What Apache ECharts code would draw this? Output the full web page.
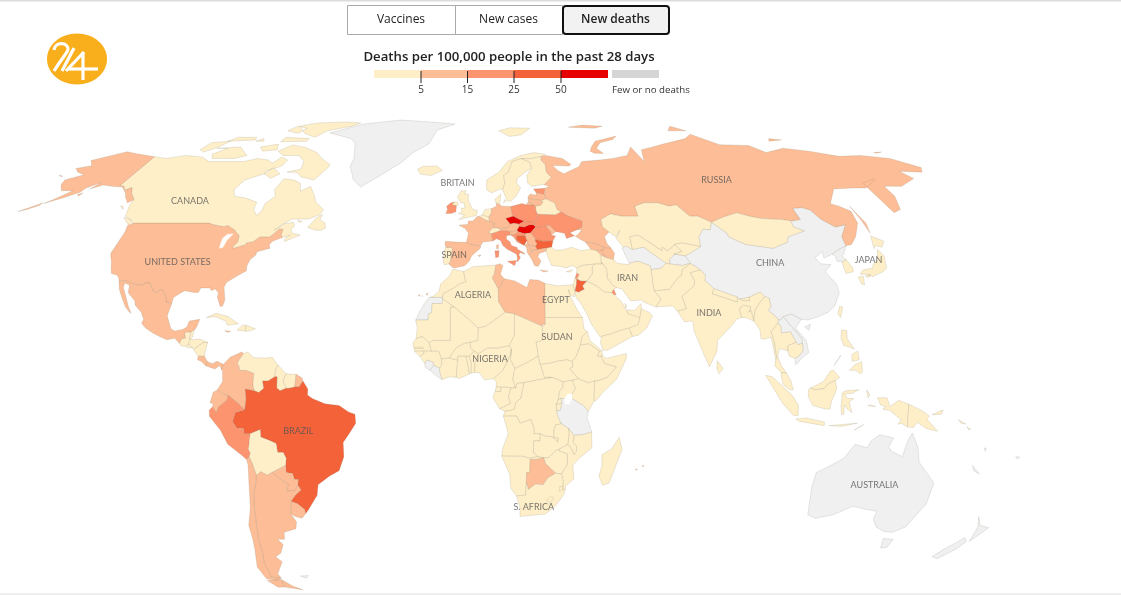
<!DOCTYPE html>
<html><head><meta charset="utf-8">
<script src="https://cdn.jsdelivr.net/npm/echarts@6/dist/echarts.min.js"></script>
<style>html,body{margin:0;padding:0;background:#fff}#c{width:1121px;height:595px}</style></head>
<body><div id="c"></div>
<script>
// Values: deaths per 100,000 in the past 28 days (estimated from the colour bin)
const countries = ['USA','Canada','Mexico','Guatemala','Belize','Honduras','El Salvador','Nicaragua','Costa Rica','Panama','Cuba','Haiti','Dominican Rep.','Jamaica','Iceland',
'Colombia','Venezuela','Guyana','Suriname','French Guiana','Brazil','Ecuador','Peru','Bolivia','Paraguay','Uruguay','Argentina','Chile',
'Morocco','Algeria','Tunisia','Libya','Egypt','Sudan','South Sudan','Chad','Niger','Mali','Mauritania','Senegal','Gambia','Guinea-Bissau','Guinea','Ivory Coast','Burkina Faso','Ghana','Togo','Benin','Nigeria','Cameroon','CAR','Eq. Guinea','Gabon','Congo','DR Congo','Uganda','Kenya','Rwanda','Burundi','Ethiopia','Eritrea','Djibouti','Somalia','Angola','Zambia','Malawi','Mozambique','Zimbabwe','Namibia','Botswana','South Africa','Lesotho','Eswatini','Madagascar','Mauritius',
'Portugal','Spain','France','Belgium','Netherlands','Germany','Denmark','Switzerland','Austria','Italy','Britain','Ireland','Norway','Sweden','Finland','Estonia','Latvia','Lithuania','Belarus','Poland','Czech Rep.','Slovakia','Hungary','Slovenia','Croatia','Bosnia','Serbia','Montenegro','Albania','N. Macedonia','Romania','Bulgaria','Moldova','Ukraine','Greece','Turkey','Cyprus','Georgia','Armenia','Azerbaijan','Russia',
'Kazakhstan','Uzbekistan','Kyrgyzstan','Afghanistan','Pakistan','Iran','Iraq','Syria','Lebanon','Israel','Jordan','Saudi Arabia','Kuwait','Qatar','UAE','Oman','Yemen','India','Nepal','Bangladesh','Bhutan','Sri Lanka','Myanmar','Thailand','Cambodia','Malaysia','Indonesia','PNG','Philippines','Taiwan','Mongolia','South Korea','Japan','Solomon Is.'];
const deaths = [9,3,8,3,3,4,2,1,8,7,2,1,2,7,1,
13,2,3,4,8,35,6,22,4,14,14,14,13,
1,1,8,7,2,1,1,1,1,1,1,1,1,1,1,1,1,1,1,1,1,1,1,1,1,1,1,1,1,1,1,1,1,1,1,1,2,1,1,3,4,8,4,3,3,1,7,
3,7,9,4,4,10,1,3,8,16,3,18,1,3,1,18,8,8,3,20,60,22,65,12,18,30,10,12,12,12,20,35,12,20,9,3,3,8,8,6,9,
1,1,1,1,1,4,3,2,18,3,28,2,18,2,2,2,1,2,1,1,1,1,1,2,1,2,2,1,2,1,2,2,3,1];
const binEdges = [5,15,25,50];
const binColors = ['#feefc9','#fdbd96','#fc9470','#f4623a','#e60000'];
const noDataColor = '#f0f0f0';
const legendLabels = ['5','15','25','50'];
const legendTitle = 'Deaths per 100,000 people in the past 28 days';
const legendNoData = 'Few or no deaths';
const tabs = ['Vaccines','New cases','New deaths'];
const labelNames = ['CANADA','UNITED STATES','RUSSIA','BRITAIN','SPAIN','ALGERIA','EGYPT','SUDAN','NIGERIA','IRAN','INDIA','CHINA','JAPAN','BRAZIL','S. AFRICA','AUSTRALIA'];
const labelLons = [-108.2,-99.9,98.2,-6.7,-5.8,1.2,28.5,28.8,7.5,52.7,78.2,102,136,-53.2,22.9,133.8];
const labelLats = [55.5,37.7,62,61,39.8,28.4,27,16.5,10.2,33.2,23.3,37.5,38.3,-10.2,-31.8,-25.6];
const lakes = ['Lake Victoria','Lake Michigan'];

// Simplified country outlines in lon,lat
const outlines = {
'USA':['-124.7,48.4 -123,49 -95.2,49 -94.6,48.7 -92,48.3 -89.6,48 -88.4,48.3 -84.9,46.9 -84.5,46.5 -83.6,46 -82.5,45.3 -82.1,43.6 -82.4,43 -83.1,42.2 -82.7,41.7 -79,42.8 -79,43.3 -76.8,43.6 -76.2,44.1 -75,45 -71.5,45 -70.3,46.2 -69.2,47.4 -67.8,47.1 -67.8,45.7 -67,44.8 -70,43.7 -70.7,42.7 -70,41.7 -74,40.7 -74.1,39.7 -75.5,38.5 -75.9,36.6 -75.5,35.3 -77.9,33.9 -81,32 -81.4,30.7 -80.1,26.9 -80.4,25.2 -81.2,25.2 -81.8,26.2 -82.8,27.8 -82.7,28.9 -84,30.1 -85.3,29.7 -86,30.4 -89,30.4 -89.4,29.1 -90.8,29.1 -94,29.6 -95.1,29 -97.2,27.7 -97.2,25.9 -99.2,26.4 -99.5,27.5 -101.4,29.8 -102.7,29.7 -103.2,29 -104.5,29.6 -106.5,31.8 -108.2,31.8 -108.2,31.3 -111,31.3 -114.8,32.5 -117.1,32.5 -117.3,33 -118.4,34 -120.6,34.5 -121.9,36.6 -122.5,37.8 -123.8,39.5 -124.3,40.4 -124.1,43 -124,46.3',
'-141,69.6 -141,60.3 -139,60 -137.5,58.9 -135.5,59.7 -133.5,58 -130,55.9 -131.5,55 -134,56.5 -136,58 -139.5,59.8 -144,60 -148,60.4 -151.5,59.2 -150,61.2 -153.5,59.5 -154,58.2 -158,56.5 -163,54.8 -161,56 -157.5,58.7 -162,58.7 -165,60.5 -166,62 -161,63.7 -165,64.5 -168,65.7 -163,66.6 -166.5,68.3 -156.5,71.3 -150,70.5',
'-163.5,55 -166,53.9 -169.5,52.4 -167,53 -164,54.2','-154,57.5 -152.5,58 -153,57','-171,63.5 -168.8,63.2 -170,63.2'],
'Canada':['-141,69.6 -135,69 -128,70 -120,69.5 -115,68 -108,68 -100,68 -95,69 -90,68.5 -87,67.5 -85,69.5 -81.5,68.5 -82,66.5 -87,65 -87,64 -93,62 -94.5,59 -92.5,57 -88,56.5 -82.5,55.2 -82,53 -80,51.3 -78.8,52.5 -79,54.8 -76.7,57 -78.5,59 -77.5,62.4 -73,62 -69.8,61 -68,58.5 -65,60 -62,57.5 -60,55.2 -56,53 -56.5,51.5 -60,50.2 -66,50.2 -69,48.5 -71,46.9 -68,48.8 -65,49.2 -64.3,48.2 -65,47 -64,46 -61,45.5 -63.5,44.5 -65.8,43.6 -66,44.5 -64.5,45.5 -67,44.8 -67.8,45.7 -67.8,47.1 -69.2,47.4 -70.3,46.2 -71.5,45 -75,45 -76.2,44.1 -76.8,43.6 -79,43.3 -79,42.8 -82.7,41.7 -83.1,42.2 -82.4,43 -82.1,43.6 -82.5,45.3 -83.6,46 -84.5,46.5 -84.9,46.9 -88.4,48.3 -89.6,48 -92,48.3 -94.6,48.7 -95.2,49 -123,49 -125,50 -128,51 -130,54.5 -130,55.9 -133.5,58 -135.5,59.7 -137.5,58.9 -139,60 -141,60.3',
'-123.5,48.4 -125.5,49 -128.3,50.7 -125,50 -123.5,48.9','-59.3,47.7 -57.4,50.5 -55.6,51.5 -55.8,50 -53.5,49 -52.8,47.5 -54.2,46.9 -56,46.9',
'-62,66 -65,62 -71,63 -74,64.5 -78,64.5 -73,65.5 -74,68 -78,70 -85,70 -89,71.5 -85,73.7 -78,72.8 -71,71 -67,69 -62,67',
'-105,69 -115,69 -117,70.5 -113,72.5 -118,72.5 -108,73 -101,70','-125,72 -122,71.2 -118,73 -116,75 -124,74.5','-87,64 -83,62.5 -80.5,64 -85,66',
'-62,82.5 -70,83 -85,82.5 -92,81 -85,78 -78,76.5 -75,79 -65,81','-80,75 -92,74.8 -92,76.5 -80,76','-105,75.5 -117,75 -115,76.5 -106,76.5','-88,78 -95,79 -93,81 -87,80','-90,72 -96,71.5 -99,73 -92,74','-132,54 -131,53 -133,54','-64,49.9 -62,49.5 -63,49.2','-100,75 -104,75 -102,76'],
'Mexico':['-117.1,32.5 -114.8,32.5 -111,31.3 -108.2,31.3 -108.2,31.8 -106.5,31.8 -104.5,29.6 -103.2,29 -102.7,29.7 -101.4,29.8 -99.5,27.5 -99.2,26.4 -97.2,25.9 -97.8,22.5 -95.8,18.8 -94.5,18.2 -92,18.6 -90.7,19.3 -90.3,21 -87,21.5 -87.5,19.5 -88,18.5 -88.9,17.9 -89.1,17.8 -91,17.8 -91,17.2 -90.5,16.1 -91.7,16 -92.2,14.6 -94,16.1 -96.5,15.7 -99,16.6 -101.5,17.7 -104,19 -105.6,20.4 -105.2,21.5 -106.5,23.5 -109,25.5 -109.5,26.7 -112.5,29 -113,31.2 -114.8,31.8 -114.7,30.5 -112.8,27.8 -111,25 -109.7,23.2 -110.3,23.5 -112,25 -114,27.5 -115.8,30'],
'Guatemala':['-92.2,14.6 -91.7,16 -90.5,16.1 -91,17.2 -91,17.8 -89.1,17.8 -89.2,15.9 -88.2,15.7 -89.2,14.6 -90,13.8 -91.5,13.9'],
'Belize':['-89.1,17.9 -88.3,18.5 -88.3,16.5 -89.2,15.9'],
'Honduras':['-89.2,15.9 -88.2,15.7 -86,15.9 -83.2,15 -83.5,14.8 -84.8,14.8 -87.4,13 -87.8,13.4 -89.2,14.4'],
'El Salvador':['-90,13.8 -89.2,14.4 -87.8,13.4 -88,13.2 -89.5,13.4'],
'Nicaragua':['-87.4,13 -84.8,14.8 -83.2,15 -83.7,12 -83.7,11 -85.7,11 -87.5,12.9'],
'Costa Rica':['-85.7,11 -83.7,11 -82.6,9.5 -83,8.3 -84.5,9.5 -85.8,10'],
'Panama':['-83,8.3 -82.6,9.5 -81,8.9 -79.5,9.6 -77.4,8.7 -77.9,7.2 -78.5,8.4 -80,7.4 -81,7.7 -82.8,8.2'],
'Cuba':['-85,22 -82,23.2 -78,22.3 -74.2,20.2 -77.7,19.8 -78.5,21 -82,22.2'],
'Haiti':['-74.4,18.4 -72.8,19.9 -71.7,19.8 -71.7,18.2'],
'Dominican Rep.':['-71.7,19.8 -68.5,18.8 -70,18.3 -71.7,18'],
'Jamaica':['-78.3,18.3 -76.3,18 -77.5,17.8'],
'Iceland':['-24,65.5 -22,66.4 -16,66.5 -13.5,65 -18,63.4 -22.5,63.9'],
'Greenland':['-11.8,82 -25,83 -42,83.9 -60,82 -72.8,78.2 -60,76 -56.5,74.3 -53,69 -53,66.5 -49,62 -45,59.8 -39.8,62.8 -32,67.5 -28,71 -22,74 -20,79.3'],
'Colombia':['-77.4,8.7 -75.5,10.7 -72,12.2 -71.3,11.8 -72.5,10 -73,9 -72.3,8 -72,7 -70,7 -67.5,6.2 -67.5,2.8 -67,1.2 -69.9,1.7 -69.5,-1 -70,-4.2 -70.7,-3.7 -72,-2.4 -75.2,-0.1 -77,0.4 -78.8,1.4 -77.2,3.8 -77.5,6.9 -77.9,7.2'],
'Venezuela':['-71.3,11.8 -70,12.2 -68,10.6 -64,10.5 -62,10.7 -60,8.5 -60.7,7 -60.7,5.2 -62.8,4 -64.5,4 -64,1.9 -65.5,0.7 -67,1.2 -67.5,2.8 -67.5,6.2 -70,7 -72,7 -72.3,8 -73,9 -72.5,10'],
'Guyana':['-60,8.5 -57.2,6 -58,4 -56.9,1.9 -58.8,1.2 -59.9,2 -60,5.2 -60.7,5.2 -60.7,7'],
'Suriname':['-57.2,6 -54,5.9 -54.2,2.3 -56,1.9 -56.9,1.9 -58,4'],
'French Guiana':['-54,5.9 -52,4.8 -51.7,4 -52.8,2.3 -54.2,2.3'],
'Brazil':['-51.7,4 -50,1.7 -50,0 -48.5,-1 -44.5,-2.5 -40,-3 -37,-4.8 -35,-5.5 -34.8,-8 -37,-11 -39,-13.5 -39,-17.5 -40.8,-21.5 -44,-23 -48,-25.5 -48.7,-28.5 -52,-32.3 -53.4,-33.7 -53.5,-32.5 -55.6,-30.9 -57.6,-30.2 -55.8,-28.4 -53.8,-27 -54.6,-25.6 -54.3,-24 -55.5,-24 -56,-22.3 -58,-22 -58,-20 -57.6,-18 -58.4,-16.3 -60.2,-16.3 -60.5,-13.8 -62,-13.1 -65.3,-11.9 -65.3,-9.8 -68.6,-11 -70.6,-11 -70.6,-9.5 -72.8,-9.4 -74,-7.5 -73,-5 -70,-4.2 -69.5,-1 -69.9,1.7 -67,1.2 -65.5,0.7 -64,1.9 -64.5,4 -62.8,4 -60.7,5.2 -60,5.2 -59.9,2 -58.8,1.2 -56.9,1.9 -56,1.9 -54.2,2.3 -52.8,2.3'],
'Ecuador':['-78.8,1.4 -77,0.4 -75.2,-0.1 -75.6,-1.5 -78.3,-3.4 -79,-5 -80.3,-3.4 -80,-2.5 -81,-2.2 -80,0.8'],
'Peru':['-75.2,-0.1 -72,-2.4 -70.7,-3.7 -70,-4.2 -73,-5 -74,-7.5 -72.8,-9.4 -70.6,-9.5 -70.6,-11 -68.6,-11 -69.5,-15.5 -69,-16.5 -69.5,-17.5 -70.4,-18.3 -72,-17 -76,-14 -78,-10 -81.3,-6 -81.3,-4.3 -80.3,-3.4 -79,-5 -78.3,-3.4 -75.6,-1.5'],
'Bolivia':['-68.6,-11 -65.3,-9.8 -65.3,-11.9 -62,-13.1 -60.5,-13.8 -60.2,-16.3 -58.4,-16.3 -57.6,-18 -58,-20 -62.6,-22 -64.3,-22.8 -66.2,-21.8 -67.8,-22.8 -68.7,-19.5 -69.5,-17.5 -69,-16.5 -69.5,-15.5'],
'Paraguay':['-58,-20 -58,-22 -56,-22.3 -55.5,-24 -54.3,-24 -54.6,-25.6 -56,-27.3 -58.6,-27.2 -57.7,-25.3 -60,-24 -62.6,-22'],
'Uruguay':['-53.4,-33.7 -53.5,-32.5 -55.6,-30.9 -57.6,-30.2 -58.4,-33.8 -57,-34.5 -54.9,-35'],
'Argentina':['-66.2,-21.8 -64.3,-22.8 -62.6,-22 -60,-24 -57.7,-25.3 -58.6,-27.2 -56,-27.3 -54.6,-25.6 -53.8,-27 -55.8,-28.4 -57.6,-30.2 -58.4,-33.8 -57,-36 -57.7,-38 -62,-39 -62.5,-41 -65,-41 -63.5,-42.5 -65.3,-45 -67.5,-46 -65.8,-47.5 -69,-51 -68.4,-52.3 -72,-52 -71.9,-50 -72.5,-48 -71.7,-45 -71.5,-41 -71,-38 -70.5,-35 -70,-31 -69.5,-28 -68.3,-25 -67.8,-22.8','-68.6,-52.7 -68.6,-54.9 -62,-55.8 -65.2,-54.7'],
'Chile':['-69.5,-17.5 -68.7,-19.5 -67.8,-22.8 -68.3,-25 -69.5,-28 -70,-31 -70.5,-35 -71,-38 -71.5,-41 -71.7,-45 -72.5,-48 -71.9,-50 -72,-52 -68.4,-52.3 -70.5,-53 -74,-52.5 -75.5,-49 -74,-44 -73.5,-41 -73.5,-37 -71.5,-32 -70.5,-25 -70.1,-20 -70.4,-18.3','-68.6,-52.7 -68.6,-54.9 -71,-55 -74,-53'],
'Falkland Is.':['-61,-51.7 -58,-51.5 -59,-52.3'],
'Morocco':['-5.9,35.8 -2.2,35.1 -1.7,33 -1.2,32.2 -3.5,31.5 -5,30.5 -8.7,28.7 -8.7,27.7 -13,27.7 -11.5,28.2 -10,29.5 -9.7,31.5 -7,33.7'],
'W. Sahara':['-13.2,27.7 -8.7,27.7 -8.7,26 -12,26 -12,23.4 -13,23 -13,21.3 -17,21.3 -16,23.5 -14.5,26'],
'Algeria':['-2.2,35.1 1,36.5 8.6,36.9 8.2,34.6 7.5,33.2 9.5,30.2 9.7,26.5 11.9,23.5 5.8,19.5 3.3,19 1.2,20.7 -4.8,25 -8.7,27.3 -8.7,28.7 -5,30.5 -3.5,31.5 -1.2,32.2 -1.7,33'],
'Tunisia':['8.6,36.9 10,37.3 11,36.8 10.2,34.3 11.5,33 10.2,31 9.5,30.2 7.5,33.2 8.2,34.6'],
'Libya':['11.5,33 15,32.4 19,30.5 20,32.8 23,32.6 25,31.7 25,20 24,20 24,19.5 15,23 11.9,23.5 9.7,26.5 9.5,30.2 10.2,31'],
'Egypt':['25,31.7 29,31 32,31.2 34.3,31.3 34.9,29.5 34.3,27.8 33.2,28.5 32.6,30 33.5,27.5 35.5,24 37,22 25,22'],
'Sudan':['25,22 37,22 37.5,18.7 38.6,18 36.8,16.5 36.4,14.3 35,11 33.8,9.5 32,10 29,9.6 26.5,9 24,8.7 23.5,8.8 22.8,11 22.5,13 22,15 24,15.5 24,19.5 25,20'],
'South Sudan':['33.8,9.5 34,8 33,7.5 35.9,4.6 33.9,4.2 31,3.7 29,4.5 27.4,5 25,5 23.5,8.8 24,8.7 26.5,9 29,9.6 32,10'],
'Chad':['24,19.5 24,15.5 22,15 22.5,13 22.8,11 19,9 15.5,7.5 14,10 14.2,13 13.5,14 15,17 15,23'],
'Niger':['11.9,23.5 15,23 15,17 13.5,14 10,13.3 6.5,13.3 3.8,11.7 2.3,12.4 1,13.5 1,15 3.3,15.5 3.3,19 5.8,19.5'],
'Mali':['1.2,20.7 3.3,19 3.3,15.5 1,15 -1,14.6 -3.5,13.4 -5.5,10.5 -8,10.2 -9,12.4 -11.4,12.4 -12.2,14.8 -11,15.5 -5.5,15.5 -6,25 -4.8,25'],
'Mauritania':['-17,21.3 -13,21.3 -13,23 -12,23.4 -12,26 -8.7,26 -8.7,27.3 -4.8,25 -6,25 -5.5,15.5 -11,15.5 -12.2,14.8 -14.5,16.6 -16.5,16 -16.3,19'],
'Senegal':['-16.5,16 -14.5,16.6 -12.2,14.8 -11.4,12.4 -13.7,12.5 -16.7,12.4 -17.5,14.7'],
'Gambia':['-16.8,13.5 -14,13.6 -14,13.2 -16.8,13.2'],
'Guinea-Bissau':['-16.7,12.4 -13.7,12.5 -13.7,11.7 -15,11'],
'Guinea':['-13.7,12.5 -11.4,12.4 -9,12.4 -8,10.2 -7.8,8.6 -8.5,7.6 -10.3,8.4 -10.7,9.3 -12.5,9.9 -13.3,9 -15,11 -13.7,11.7'],
'Sierra Leone':['-13.3,9 -12.5,9.9 -10.7,9.3 -10.3,8.4 -11.5,7 -13,7.8'],
'Liberia':['-11.5,7 -10.3,8.4 -8.5,7.6 -8.3,6.5 -7.5,4.4 -9,5.2'],
'Ivory Coast':['-7.5,4.4 -8.3,6.5 -8.5,7.6 -7.8,8.6 -8,10.2 -5.5,10.5 -2.8,9.9 -3,5 -5,5.2'],
'Burkina Faso':['-5.5,10.5 -3.5,13.4 -1,14.6 1,15 1,13.5 2.3,12.4 0.9,11 -0.2,11 -2.8,11 -2.8,9.9'],
'Ghana':['-3,5 -2.8,9.9 -2.8,11 -0.2,11 0.5,8.5 1.2,6 -2,4.7'],
'Togo':['1.2,6 0.5,8.5 -0.2,11 0.9,11 1.6,9 1.7,6.2'],
'Benin':['1.7,6.2 1.6,9 0.9,11 2.3,12.4 3.8,11.7 2.8,9 2.7,6.4'],
'Nigeria':['2.7,6.4 2.8,9 3.8,11.7 6.5,13.3 10,13.3 13.5,14 14.2,13 14,11.5 11.8,7 8.8,4.6 6,4.3 4.3,6.3'],
'Cameroon':['8.8,4.6 11.8,7 14,11.5 14.2,13 14,10 15.5,7.5 15,4.5 16,2 14.5,2 13.2,2.2 11.3,2.2 9.8,2.3 9.7,3.8'],
'CAR':['15.5,7.5 19,9 22.8,11 23.5,8.8 25,5 27.4,5 22.5,4.2 18.6,3.5 16.5,3.3 16,2 15,4.5'],
'Eq. Guinea':['9.8,2.3 11.3,2.2 11.3,1 9.5,1'],
'Gabon':['9.5,1 11.3,1 11.3,2.2 13.2,2.2 14.5,2 13.8,-0.5 14.5,-2.4 12,-3.5 11,-3.9 8.8,-0.7'],
'Congo':['11,-3.9 12,-3.5 14.5,-2.4 13.8,-0.5 14.5,2 16,2 16.5,3.3 18.6,3.5 17.7,-1 16.2,-2 15.7,-4 14,-4.5 12.7,-4.6'],
'DR Congo':['12.2,-6 12.7,-4.6 14,-4.5 15.7,-4 16.2,-2 17.7,-1 18.6,3.5 22.5,4.2 27.4,5 29,4.5 31,3.7 31,2.2 30,1 29.6,-1.4 29,-2.7 29.2,-4.5 29.5,-6 30.7,-8.2 28.9,-8.5 28.4,-10 28.4,-12 29.8,-12.2 29.8,-13.4 28,-12 27.5,-11.8 25.5,-11.7 24,-11 22,-11 22,-9.5 21,-7 17.5,-8 16.5,-6 13,-6'],
'Uganda':['31,3.7 33.9,4.2 35,1.9 33.9,0.1 33.9,-1 30.5,-1 29.6,-1.4 30,1 31,2.2'],
'Kenya':['33.9,4.2 35.9,4.6 39,3.5 41,4 41,-1.7 39.2,-4.7 37.6,-3 33.9,-1 33.9,0.1 35,1.9'],
'Rwanda':['29,-2.7 29.6,-1.4 30.5,-1 30.8,-2.3'],
'Burundi':['29,-2.7 30.8,-2.3 30.3,-4.4 29.2,-4.5'],
'Tanzania':['33.9,-1 37.6,-3 39.2,-4.7 38.8,-6.5 39.5,-8 40.4,-10.5 38,-11.2 34.9,-11.5 33,-9.5 30.7,-8.2 29.5,-6 29.2,-4.5 30.3,-4.4 30.8,-2.3 30.5,-1'],
'Lake Victoria':['31.7,-1 32.5,0.2 33.9,0.3 34,-1 33,-2.6 31.8,-2.5'],
'Ethiopia':['36.4,14.3 37,14.3 39,14.6 42.4,12.5 41.8,11 43,11 44,9 47.9,8 45,5 42,4 41,4 39,3.5 35.9,4.6 33,7.5 34,8 33.8,9.5 35,11'],
'Eritrea':['38.6,18 39.3,15.5 43,12.7 42.4,12.5 39,14.6 37,14.3 36.4,14.3 36.8,16.5'],
'Djibouti':['42.4,12.5 43.3,12.4 43.2,11.5 43,11 41.8,11'],
'Somalia':['43.2,11.5 44.5,10.4 51,11.8 51,10.4 48,4.5 44,1 41.5,-1.7 41,-1.7 41,4 42,4 45,5 47.9,8 44,9 43,11'],
'Angola':['12.2,-6 13,-6 16.5,-6 17.5,-8 21,-7 22,-9.5 22,-11 24,-11 24,-13 22,-13 22,-16.2 23.3,-17.5 21,-18 18.5,-17.4 14,-17.4 11.8,-17.3 12,-15.5 13.8,-11 13.2,-9'],
'Zambia':['22,-13 24,-13 24,-11 25.5,-11.7 27.5,-11.8 28,-12 29.8,-13.4 29.8,-12.2 28.4,-12 28.4,-10 28.9,-8.5 30.7,-8.2 33,-9.5 33.3,-10.8 33,-14 30.2,-15.4 28.8,-16 27,-17.8 25.3,-17.8 23.3,-17.5 22,-16.2'],
'Malawi':['33,-9.5 34.9,-11.5 34.6,-13.5 35.8,-14.5 35.8,-16 35,-17 34.3,-15.5 33,-14 33.3,-10.8'],
'Mozambique':['34.9,-11.5 38,-11.2 40.4,-10.5 40.7,-15 37,-17.8 34.8,-20 35.5,-23.8 32.9,-25.9 32.9,-26.8 32,-26.8 32,-24.5 31.3,-22.4 33,-19.8 32.9,-16.7 30.4,-16 30.2,-15.4 33,-14 34.3,-15.5 35,-17 35.8,-16 35.8,-14.5 34.6,-13.5'],
'Zimbabwe':['25.3,-17.8 27,-17.8 28.8,-16 30.2,-15.4 30.4,-16 32.9,-16.7 33,-19.8 31.3,-22.4 29.4,-22.2 26,-19.5'],
'Namibia':['11.8,-17.3 14,-17.4 18.5,-17.4 21,-18 23.3,-17.5 25.3,-17.8 23,-18.3 21,-18.3 21,-22 20,-22 20,-28.4 17,-28.7 15,-26.5 14.5,-22.5'],
'Botswana':['21,-18.3 23,-18.3 25.3,-17.8 26,-19.5 29.4,-22.2 27,-23.5 25.5,-25.5 23,-25.3 20.8,-26.8 20,-24.8 20,-22 21,-22'],
'South Africa':['17,-28.7 20,-28.4 20,-24.8 20.8,-26.8 23,-25.3 25.5,-25.5 27,-23.5 29.4,-22.2 31.3,-22.4 32,-24.5 32,-26.8 32.9,-26.8 32.4,-28.5 30,-31.5 27,-33.8 22,-34.2 18.5,-34.5 18.3,-32'],
'Lesotho':['27,-30 28.5,-28.6 29.4,-29.5 28,-30.6'],
'Eswatini':['31,-26 32,-26 32,-27 31,-27.3'],
'Madagascar':['49.3,-12 50.4,-15.5 47,-25 45,-25.6 43.5,-23 44.3,-20 44,-17 47,-15.3'],
'Mauritius':['57.3,-20 57.8,-20 57.5,-20.5','55.2,-21 55.8,-21 55.5,-21.4'],
'Portugal':['-9,41.9 -6.5,41.9 -6.9,38 -7.4,37.2 -9,37 -9.5,38.7'],
'Spain':['-9.2,43.7 -9.3,43 -8.8,41.9 -6.5,41.9 -6.9,38 -7.4,37.2 -6,36.2 -5.3,36.1 -2,36.7 -0.5,38 0.2,39.5 3.2,41.8 3.2,42.4 0,42.8 -1.8,43.4 -4,43.4','-16.8,28.3 -16.2,28.5 -16.5,28','-15.8,28.2 -15.3,28 -15.6,27.8','-14.3,28.6 -13.6,29 -13.9,28.3','2.4,39.6 3.4,39.8 3.1,39.3'],
'France':['-1.8,43.4 0,42.8 3.2,42.4 4,43.5 7.5,43.8 7,45.5 7,45.9 6,46.3 7.5,47.6 8.2,49 6.2,49.5 4.5,50 2.5,51 1.6,50.9 0.2,49.6 -1.5,49.6 -1.6,48.6 -4.8,48.4 -2.5,47.4 -1.2,46','8.7,42.6 9.5,42.8 9.4,41.5 8.8,41.6'],
'Belgium':['2.5,51 3.5,51.4 6,50.8 6.2,49.5 4.5,50'],
'Netherlands':['3.5,51.4 4.5,53 7,53.3 6.9,52 6,50.8'],
'Germany':['6,50.8 6.9,52 7,53.3 8.8,54 8.7,54.9 10,54.5 11,54 14.2,53.9 14.6,51.7 15,51 12.2,50.3 13.8,48.7 13,47.6 10,47.4 9.6,47.5 7.5,47.6 8.2,49 6.2,49.5'],
'Denmark':['8.7,54.9 8.2,56 10.6,57.7 10.3,56 10,54.5','11.5,55 12.5,55.5 12,56'],
'Switzerland':['6,46.3 7,45.9 10.4,46.8 9.6,47.5 7.5,47.6'],
'Austria':['9.6,47.5 10.4,46.8 12.4,46.7 14.5,46.4 16.1,46.9 17,48 16.9,48.6 15,49 13.8,48.7 13,47.6 10,47.4'],
'Italy':['7.5,43.8 8.8,44.4 10.2,43.9 11,42.5 12.5,41.4 14,40.8 15.7,40 16,38.8 15.7,38 16.1,37.9 17,39 16.5,39.8 16.9,40.5 18.5,40 18.4,40.3 16,41.5 16,41.9 14,42.5 13.5,43.6 12.3,44.3 12.3,45.3 13.7,45.5 13.7,46.5 12.4,46.7 10.4,46.8 7,45.9 7,45.5','12.5,38 15.6,38.2 15,36.7','8.2,41 9.7,41 9.5,39.2 8.5,39'],
'Britain':['-5,50 1.3,51.2 1.7,52.7 0,53 -1.5,55 -2,56 -2,57.6 -3.5,57.7 -3,58.7 -5,58.6 -6.2,56.7 -4.8,55 -3.5,54.9 -3,53.5 -4.5,53.3 -4,52.3 -5.2,51.8 -3,51.3','-5.5,54.5 -6,55.2 -7.3,55.2 -8,54.4 -6.3,54.1'],
'Ireland':['-6.3,54.1 -8,54.4 -7.3,55.2 -8.5,55 -10,54 -9.5,53 -10,51.8 -8,51.8 -6.3,52.3'],
'Norway':['5,59 7,58 10.5,59.2 11.3,59 12.3,61 12,63.5 14,64.5 16,68 20,69 24,68.9 29,69.7 31,70.4 26,71 20,70 14,68 10,64.5 5,62','11,79 17,80.2 27,80 22,77.5 16,76.8'],
'Sweden':['11.3,59 13,55.5 14.3,55.5 16.5,57 18.5,59.5 17,61 17.5,62.5 21,64.5 24,65.8 23.5,67.8 20,69 16,68 14,64.5 12,63.5 12.3,61'],
'Finland':['24,65.8 21.5,63.5 21.5,61 23,60 27,60.5 28,60.5 31.5,62.9 29.8,64.5 30,67 28.5,68.5 29,69.7 24,68.9 20,69 23.5,67.8'],
'Estonia':['23.5,59.2 28,59.4 27.5,57.6 25,57.9 24.3,58.3'],
'Latvia':['21,56.8 22,57.7 24.3,57.3 24.3,58.3 25,57.9 27.5,57.6 28,56.2 26,55.7 21,56.3'],
'Lithuania':['21,56.3 26,55.7 26.6,55.2 25.5,54.2 23.5,54 22.8,54.4 21,55.3'],
'Belarus':['23.5,54 25.5,54.2 26.6,55.2 26,55.7 28,56.2 31,55 31.5,53 33,52.3 30.5,51.4 24,51.6 23.5,52.6'],
'Poland':['14.2,53.9 18.5,54.8 20,54.4 22.8,54.4 23.5,54 23.5,52.6 24,51.6 24,50.5 22.6,49.2 19,49.4 18.8,49.5 16.8,50.2 15,51 14.6,51.7'],
'Czech Rep.':['12.2,50.3 15,51 16.8,50.2 18.8,49.5 17,48.7 16.9,48.6 15,49 13.8,48.7'],
'Slovakia':['16.9,48.6 17,48.7 18.8,49.5 19,49.4 22.6,49.2 22.2,48.4 20.5,48.4 18.8,47.8 17,48'],
'Hungary':['17,48 18.8,47.8 20.5,48.4 22.2,48.4 22.9,47.9 21,46.2 18.8,45.9 16.5,46.5 16.1,46.9'],
'Slovenia':['13.7,45.5 13.7,46.5 14.5,46.4 16.1,46.9 16.5,46.5 15.5,45.8'],
'Croatia':['13.7,45.5 15.5,45.8 16.5,46.5 18.8,45.9 19,45.2 16,45.2 15.8,44.3 17.5,43 18.5,42.5 16,43.5 14.8,45'],
'Bosnia':['15.8,44.3 16,45.2 19,45.2 19.5,44 18.5,42.6 17.5,43'],
'Serbia':['19,45.2 18.8,45.9 21,46.2 22.5,44.5 22.4,43.8 23,43 22.4,42.3 20.7,42.3 20.2,42.6 19.5,43 19.5,44'],
'Montenegro':['18.5,42.6 19.5,43 20.2,42.6 19.3,41.9'],
'Albania':['19.3,41.9 20.2,42.6 20.6,41.8 21,40.6 20,39.7 19.4,40.5'],
'N. Macedonia':['20.6,41.8 20.7,42.3 22.4,42.3 23,41.3 21,41'],
'Romania':['21,46.2 22.9,47.9 24.8,47.8 26.6,48.3 28.2,46.5 28.2,45.5 29.7,45.2 28.6,43.8 25,43.7 22.5,44.2 22.5,44.5'],
'Bulgaria':['22.4,43.8 22.5,44.2 25,43.7 28.6,43.8 28,42 26.3,41.8 24,41.5 23,41.3 22.4,42.3 23,43'],
'Moldova':['26.6,48.3 28,48.3 30,46.5 28.2,45.5 28.2,46.5'],
'Ukraine':['22.2,48.4 22.6,49.2 24,50.5 24,51.6 30.5,51.4 33,52.3 35,51.2 40,49.6 39.7,47.8 38,47.1 35,46.2 36.5,45.3 33.5,44.5 33,46 30.7,46.4 30,46.5 28,48.3 26.6,48.3 24.8,47.8 22.9,47.9'],
'Greece':['20,39.7 21,40.6 21,41 23,41.3 24,41.5 26.3,41.8 26,40.9 23.5,40.2 23,39.3 24,38 23,36.5 21.7,36.8 21,38.3','23.5,35.5 26.3,35.2 24.8,34.9'],
'Turkey':['26,40.9 26.3,41.8 28,42 29,41.2 31.5,41.2 35,42 38,41 41.5,41.5 43.5,41 44.8,39.7 44.5,37.8 44.8,37.2 42.3,37.2 38,36.8 36.6,36.3 36,36 34.5,36.8 32.5,36.1 30.5,36.5 27.5,36.8 26.3,39.5'],
'Cyprus':['32.3,35 34.5,35.6 33.8,34.9'],
'Georgia':['40,43.5 43,43.2 46.5,41.9 46,41.2 45,41.2 43.5,41 41.5,41.5'],
'Armenia':['43.5,41 45,41.2 46.5,39 44.8,39.7'],
'Azerbaijan':['45,41.2 46,41.2 46.5,41.9 48.6,41.8 49.5,40.3 48.8,38.4 46.5,39'],
'Russia':['36.7,45.2 38,44.4 40,43.5 43,43.2 46.5,41.9 48.6,41.8 47.5,43 47,45 49,46.4 47,48 47,50 51,51.7 55,51 61,51 61,54 65,55 70,55 74,54 76.8,54.4 80,51 83,51 87,49.2 92,50.7 98,52 102,51 106,50.3 113,50 116,49.7 117,49.6 120,50 120,53.3 123.5,53.5 126,52.8 127.5,50 131,47.8 135,48.4 131,45 130.7,42.4 133,42.8 136,45 140,49 141,52.5 138,54 135.5,54.7 142,59.2 150,59.5 155,59.5 161,61.5 163,62.5 156,61 156,57 156.5,52 160,53 163,57 163,60 170,60 179,62.5 177,64.8 186,64.5 188.5,66 181,69 170,70 160,69.7 150,71.5 140,72.5 130,71 126,73.5 113,73.8 105,77.7 100,76 87,74 80,72.8 75,72 73,68 71,73 67,70 60,69 54,68.5 46,68 44,66.3 40,65 37,64 34.7,65 33,66.7 40,66.5 41,67 38,69 31,70 29,69.7 28.5,68.5 30,67 29.8,64.5 31.5,62.9 28,60.5 30,60 28,59.4 27.5,57.6 28,56.2 31,55 31.5,53 33,52.3 35,51.2 40,49.6 39.7,47.8 38,47.1 39.3,47 37.5,45.5','20,54.4 22.8,54.4 21,55.3','142,54 143,49 142,46 142,50','51.5,71.5 53,73 56,75 68,77 65,75.7 58,74.5 55,72.5 57,70.7 53,70.8','96,79 105,79 100,81','138,75 145,75.5 140,76','178,71 182,71.2 179,70.8','47,80.5 55,81.5 65,81 60,80'],
'Kazakhstan':['49,46.4 51,45 53,46.9 51,44.5 53,42 52.5,41.7 56,41.3 56,45 59,45.5 61,44.3 66,41 66.5,42 68,41 70,42 71,42.8 74,43.2 80,42.2 80.5,45 83,47.2 85.5,47 87,49.2 83,51 80,51 76.8,54.4 74,54 70,55 65,55 61,54 61,51 55,51 51,51.7 47,50 47,48'],
'Uzbekistan':['56,45 59,45.5 61,44.3 66,41 66.5,42 68,41 70,42 71,42.8 73,40.8 70.5,40.2 68,38.5 67.8,37.2 66.5,37.4 62,40.5 60,42 56,41.3'],
'Turkmenistan':['52.5,41.7 53,42 54,42.3 56,41.3 60,42 62,40.5 66.5,37.4 64.5,36 61,35.6 61,36.7 57,38 54,37.4 53,40'],
'Kyrgyzstan':['71,42.8 74,43.2 80,42.2 76,40.4 73.7,39.5 70,40 73,40.8'],
'Tajikistan':['68,38.5 70.5,40.2 70,40 73.7,39.5 75,37.5 72,36.8 67.8,37.2'],
'Afghanistan':['61,35.6 64.5,36 66.5,37.4 67.8,37.2 72,36.8 74.9,37.4 71.5,35.5 71,34 69.3,33 66,29.9 61,29.6 60.9,31.5'],
'Pakistan':['61,25 66.5,25.3 68,23.8 71,24.5 70,28 74.5,31 75,32.5 74,34.7 77.8,35.5 74.9,37.4 71.5,35.5 71,34 69.3,33 66,29.9 61,29.6 63,27.2'],
'Iran':['44.8,39.7 46.5,39 48.8,38.4 50,37.4 54,37 54,37.4 57,38 61,36.7 61,35.6 60.9,31.5 61,29.6 63,27.2 61,25 57,26.5 56.5,27 53,26.7 50.5,30 48.7,30.5 47.7,31 46,33 46,35.8 44.5,37.8'],
'Iraq':['44.8,37.2 44.5,37.8 46,35.8 46,33 47.7,31 48.7,30.5 47.7,30 47,29.1 44.7,29.2 42,31 39,32.3 41,34.4 41.3,36.5 42.3,37.2'],
'Syria':['36,36 36.6,36.3 38,36.8 42.3,37.2 41.3,36.5 41,34.4 39,32.3 36.9,32.4 35.7,33 36.6,34.2 35.8,34.6'],
'Lebanon':['35.1,33.1 35.8,34.6 36.6,34.2 35.7,33'],
'Israel':['34.3,31.3 35.1,33.1 35.7,33 35.5,31.5 34.9,29.5'],
'Jordan':['35.5,31.5 35.7,33 36.9,32.4 39,32.3 37.5,31 38,30 36,29.2 34.9,29.5'],
'Saudi Arabia':['34.9,29.5 36,29.2 38,30 37.5,31 39,32.3 42,31 44.7,29.2 47,29.1 47.7,28.5 50,26.5 51,24.6 52,23 55,22.7 55.7,22 55,20 52,19 49,18.3 46,17.3 43.2,16.7 42.7,16.4 40,20 38.5,23 36.6,26 34.9,28'],
'Kuwait':['47,29.1 47.7,30 48.4,28.5 47.7,28.5'],
'Qatar':['51,26 51.6,25.5 51.2,24.6'],
'UAE':['51.6,24.2 54,24 56.3,26 56.3,24.5 55.7,22 52,23'],
'Oman':['56.3,24.5 58.7,23.5 59.8,22.5 57.7,19 55,17 53,16.6 52,19 55,20 55.7,22'],
'Yemen':['43.2,16.7 46,17.3 49,18.3 52,19 53,16.6 45,12.7 43.5,12.7 42.7,15'],
'India':['68,23.8 71,24.5 70,28 74.5,31 75,32.5 74,34.7 77.8,35.5 79,34 78.5,32.5 81,30.2 80,28.8 88,26.4 88.1,27.9 88.8,27.3 89.8,26.8 92,26.8 92,27.8 96,29.3 97.3,28 95,26 93.3,24 92.5,21 92,24 91.2,23.5 92,25 89.8,25.5 88.2,24.5 88.7,22 87,21.5 85,19.5 80.3,15.5 80,12.5 77.5,8 76,11 73,18 72.7,21 70,20.8 69,22.3'],
'Nepal':['80,28.8 81,30.2 88.1,27.9 88,26.4'],
'Bangladesh':['88.2,24.5 89.8,25.5 92,25 91.2,23.5 92,24 92.5,21 90,22 88.7,22'],
'Bhutan':['88.8,27.3 92,27.8 92,26.8 89.8,26.8'],
'Sri Lanka':['80,9.7 81.8,7.5 80.5,6 79.8,7.5'],
'Myanmar':['92.5,21 93.3,24 95,26 97.3,28 98.6,27.5 98.7,25 97.6,24 99,23 100.5,21.5 100.2,20.4 97.8,18 98.5,15 99,10.5 98.6,10 98,14 97.5,16.5 95.5,15.8 94.3,16 94.2,18.5'],
'Thailand':['100.2,20.4 100.5,20 101.2,19.5 101,17.7 104,18 105.5,15 102.8,14 102.7,12.5 100.8,13 100,13.2 99.3,11 100.3,8.5 102,6.2 100.3,6.4 98.3,8.3 98.6,10 99,10.5 98.5,15 97.8,18'],
'Laos':['100.5,20 100.5,21.5 101.2,21.3 102.2,22.3 104.5,19.5 107.5,16 107.5,14.7 106,14.3 105.5,15 104,18 101,17.7 101.2,19.5'],
'Vietnam':['102.2,22.3 105,23 108,21.5 105.7,19 108.8,15.5 109.3,12 107,10.5 105,8.6 104.8,10.4 106,11 107.5,12.5 107.5,14.7 107.5,16 104.5,19.5'],
'Cambodia':['102.8,14 105.5,15 106,14.3 107.5,14.7 107.5,12.5 106,11 104.8,10.4 103,11 102.7,12.5'],
'Malaysia':['100.3,6.4 102,6.2 103.4,4 104.2,1.4 103,1.5 101,3 100.3,5','109.6,2 111,1.5 114,1.8 115,3 117.5,4.2 118.9,5 117,7 116,6.8 113.7,3.8 111.3,2.7'],
'Indonesia':['95.3,5.6 97.5,5.2 103.8,0 106,-3 105.9,-5.8 104.5,-5.8 101,-2.5','105.3,-6.8 108.5,-6.5 114.5,-7.7 114.5,-8.7 106.5,-7.5','109,1.5 109.6,2 111,1.5 114,1.8 115,3 117.5,4.2 118,2 117.5,0.5 116.5,-1.5 116,-4 114.5,-4 110.5,-3 109,-0.5','119.7,-5.5 119.5,-3 119.8,0.7 121,1.2 125,1.5 123,0.5 120.5,0.3 121.5,-1 123.5,-1 122,-2 123,-5 121.5,-4 120.5,-2.8 120.5,-5.5','124,-10 127,-8.4 125,-9.5','116,-8.7 125,-8 120,-8.9','131,-0.8 134,-0.8 135,-3.3 137.8,-1.5 141,-2.6 141,-9.1 139,-8 138,-8.3 138.8,-7 135,-4.4 132.8,-4 133.7,-3.3 132,-2.8','127.5,1.5 128.5,0 128,-0.8','128,-3 130.5,-3.3 129,-2.8'],
'PNG':['141,-2.6 145,-4.3 147.8,-6 147,-6.8 150.8,-10.3 147,-9.5 144,-7.7 143,-9.2 141,-9.1','148.5,-5.6 152,-4.2 151.5,-5.5'],
'Philippines':['120.5,18.5 122.2,18.3 122,16 124,13 122,13.8 120.7,14 120,16','122,7 123.7,8.5 126,9.5 126.2,6.5 125.4,6 124,7','123,11.5 125,12.5 125.3,10 123,9.5','117.2,8.4 119.5,11.3 119,10.7'],
'Taiwan':['121,25.2 122,25 120.8,22 120.1,23'],
'China':['80.5,45 83,47.2 85.5,47 87,49.2 91,46 91,45 96,42.8 105,41.7 111,43.5 112,45 119,46.7 116,47.8 116,49.7 117,49.6 120,50 120,53.3 123.5,53.5 126,52.8 127.5,50 131,47.8 135,48.4 131,45 130.7,42.4 128,41.5 124.4,40 121,38.9 121.5,40.8 118,39 119,37.3 122.5,37 119.5,35 121.9,31.5 122,29 119.5,25.3 117,23.5 113.5,22.2 110,21.3 108,21.5 105,23 102.2,22.3 101.2,21.3 100.5,21.5 99,23 97.6,24 98.7,25 98.6,27.5 97.3,28 96,29.3 92,27.8 88.8,27.3 88.1,27.9 81,30.2 78.5,32.5 79,34 77.8,35.5 74.9,37.4 75,37.5 73.7,39.5 76,40.4 80,42.2','108.7,19.3 110.7,20.1 110,18.4'],
'Mongolia':['87,49.2 92,50.7 98,52 102,51 106,50.3 113,50 116,49.7 116,47.8 119,46.7 112,45 111,43.5 105,41.7 96,42.8 91,45 91,46'],
'North Korea':['124.4,40 128,41.5 130.7,42.4 128.4,40 127.5,39.5 128.4,38.5 126.7,37.8 125,38 125.3,39.5'],
'South Korea':['126.7,37.8 128.4,38.5 129.4,36 129,35 126.3,34.5 126.5,37'],
'Japan':['141,41.4 142,39.5 140.8,36 139,35 136,34 135,33.6 133,34.3 131,34.3 132.5,35.5 136,36 137,37.2 139,38.2 140,40','130,33.5 131.8,33.7 131.2,31.3 130.3,31.5','132.5,33.8 134.5,34.3 133.5,33.3','140,41.6 141.5,45.3 145,43.7 143,42 141,42.5'],
'Australia':['114,-22 113.5,-26 115,-34 118,-35 123.5,-34 129,-31.6 134,-32.5 137.8,-33 137.5,-35 140,-37.5 143.5,-38.8 146.5,-39 150,-37.5 153,-31 153,-25 146.5,-19 145.3,-15 142.8,-10.8 141.7,-13 140.8,-17.5 137,-16 135.8,-14.8 137,-12.2 132.5,-11.3 130,-13 129,-15 125,-14 122,-18 117,-20.6','144.7,-40.8 148.3,-41 148,-43.3 146,-43.5'],
'New Zealand':['172.7,-34.5 175,-37 178.5,-37.7 177,-39.5 175.3,-41.6 174.8,-39.5 174.7,-37.5','172.7,-40.5 174.3,-41.7 172.8,-43.8 171,-45 169,-46.6 166.5,-46 168.3,-44 171,-42'],
'New Caledonia':['164,-20 167,-22.4 165,-21.6'],
'Fiji':['177.3,-17.5 178.6,-17.6 178,-18.2'],
'Vanuatu':['166.6,-15 167.2,-15.2 167,-16'],
'Solomon Is.':['157,-7 159.5,-8.2 158,-8','160,-9 161.3,-9.8 160.5,-9.8'],
'Lake Michigan':['-87.5,41.7 -86.5,42 -86.2,44 -85,45.8 -87,45.7 -88,44.5 -87.8,42.5']
};

// Robinson projection tables, with the small northward lean seen in the reference
const robLen=[1,.9986,.9954,.99,.9822,.973,.96,.9427,.9216,.8962,.8679,.835,.7986,.7597,.7186,.6732,.6213,.5722,.5322];
const robDrop=[0,.062,.124,.186,.248,.31,.372,.434,.4958,.5571,.6176,.6769,.7346,.7903,.8435,.8936,.9394,.9761,1];
const mapX0=465, mapY0=395, mapKX=3.15, mapKY=284, mapLean=.15;
function interp(t,a){const i=Math.min(Math.floor(a),17),f=a-i;return t[i]+(t[i+1]-t[i])*f;}
function project(p){const a=Math.abs(p[1])/5;
  return [mapX0+mapLean*Math.max(p[1],0)+mapKX*interp(robLen,a)*p[0], mapY0-Math.sign(p[1])*mapKY*interp(robDrop,a)];}
function unproject(q){const d=(mapY0-q[1])/mapKY,ad=Math.abs(d);let i=0;while(i<17&&robDrop[i+1]<ad)i++;
  const a=i+(ad-robDrop[i])/(robDrop[i+1]-robDrop[i]),lat=Math.sign(d)*a*5;
  return [(q[0]-mapX0-mapLean*Math.max(lat,0))/(mapKX*interp(robLen,a)),lat];}

const parseRing=s=>{const r=s.split(' ').map(t=>t.split(',').map(Number));r.push(r[0].slice());return r;};
const features=Object.keys(outlines).map(n=>({type:'Feature',properties:{name:n},
  geometry:{type:'MultiPolygon',coordinates:outlines[n].map(s=>[parseRing(s)])}}));
echarts.registerMap('world',{type:'FeatureCollection',features});

let minX=1e9,minY=1e9,maxX=-1e9,maxY=-1e9;
features.forEach(f=>f.geometry.coordinates.forEach(pg=>pg[0].forEach(c=>{const q=project(c);
  minX=Math.min(minX,q[0]);maxX=Math.max(maxX,q[0]);minY=Math.min(minY,q[1]);maxY=Math.max(maxY,q[1]);})));

const pieces=[{gte:binEdges[3],color:binColors[4]},{gte:binEdges[2],lt:binEdges[3],color:binColors[3]},{gte:binEdges[1],lt:binEdges[2],color:binColors[2]},{gte:binEdges[0],lt:binEdges[1],color:binColors[1]},{lt:binEdges[0],color:binColors[0]}];

const font='"Open Sans","Noto Sans",sans-serif', lab='Lato,"Open Sans",sans-serif';
const g=[];
g.push({type:'rect',shape:{x:0,y:0,width:1121,height:1.5},style:{fill:'#dcdcdc'}});
g.push({type:'rect',shape:{x:0,y:593,width:1121,height:2},style:{fill:'#eeeeee'}});
// logo
g.push({type:'ellipse',shape:{cx:77,cy:59,rx:30,ry:25.5},style:{fill:'#f9ae1b'}});
const white={stroke:'#fff',lineWidth:3.2,fill:null};
g.push({type:'bezierCurve',shape:{x1:54,y1:50,cpx1:55,cpy1:41,cpx2:69,cpy2:42,x2:68,y2:50},style:white});
g.push({type:'bezierCurve',shape:{x1:68,y1:50,cpx1:67,cpy1:53,cpx2:62,cpy2:58,x2:54,y2:71},style:white});
g.push({type:'polyline',shape:{points:[[74,48],[62,71]]},style:white});
g.push({type:'polyline',shape:{points:[[84,52],[66,71]]},style:white});
g.push({type:'polyline',shape:{points:[[68,69],[98,69]]},style:white});
g.push({type:'polyline',shape:{points:[[83,52],[83,80]]},style:white});
// tabs
const tabX=[347,455,562], tabW=[108,107,107];
tabs.forEach((t,i)=>{ if(i<2) g.push({type:'rect',shape:{x:tabX[i]+.5,y:5.5,width:tabW[i],height:29},style:{fill:'#fff',stroke:'#aaaaaa',lineWidth:1}});});
g.push({type:'rect',shape:{x:tabX[2]+1,y:6,width:tabW[2]-1,height:28,r:3},style:{fill:'#f2f2f2',stroke:'#111',lineWidth:2}});
tabs.forEach((t,i)=>g.push({type:'text',style:{x:tabX[i]+tabW[i]/2,y:19.5,text:t,align:'center',verticalAlign:'middle',fill:'#222',font:(i==2?'600 ':'')+'12px '+font}}));
// legend
g.push({type:'text',style:{x:509,y:57,text:legendTitle,align:'center',verticalAlign:'middle',fill:'#222',font:'600 13.2px '+font}});
const legX=[374,421,467.5,514,561,608];
binColors.forEach((c,i)=>g.push({type:'rect',shape:{x:legX[i],y:70,width:legX[i+1]-legX[i],height:8},style:{fill:c}}));
legendLabels.forEach((t,i)=>{
  g.push({type:'line',shape:{x1:legX[i+1],y1:71,x2:legX[i+1],y2:83},style:{stroke:'#222',lineWidth:1}});
  g.push({type:'text',style:{x:legX[i+1],y:90,text:t,align:'center',verticalAlign:'middle',fill:'#333',font:'10px '+font}});
});
g.push({type:'rect',shape:{x:612,y:70,width:47,height:8},style:{fill:'#d5d5d5'}});
g.push({type:'text',style:{x:612,y:90,text:legendNoData,align:'left',verticalAlign:'middle',fill:'#333',font:'9.7px "Open Sans",sans-serif'}});

const chart=echarts.init(document.getElementById('c'));
chart.setOption({
  backgroundColor:'#fff',animation:false,
  visualMap:{show:false,type:'piecewise',seriesIndex:0,pieces},
  geo:{map:'world',roam:false,silent:true,projection:{project,unproject},
    left:minX,top:minY,width:maxX-minX,height:maxY-minY,
    itemStyle:{areaColor:noDataColor,borderColor:'rgba(130,120,100,.35)',borderWidth:.5},
    regions:lakes.map(n=>({name:n,itemStyle:{areaColor:'#fff',borderColor:'#fff'}}))},
  series:[
    {type:'map',geoIndex:0,silent:true,data:countries.map((n,i)=>({name:n,value:deaths[i]}))},
    {type:'scatter',coordinateSystem:'geo',silent:true,symbolSize:0,z:5,
     data:labelNames.map((n,i)=>({name:n,value:[labelLons[i],labelLats[i]]})),
     label:{show:true,position:'inside',formatter:'{b}',color:'#555',fontFamily:lab,fontSize:9}}
  ],
  graphic:{elements:g}
});
</script></body></html>
